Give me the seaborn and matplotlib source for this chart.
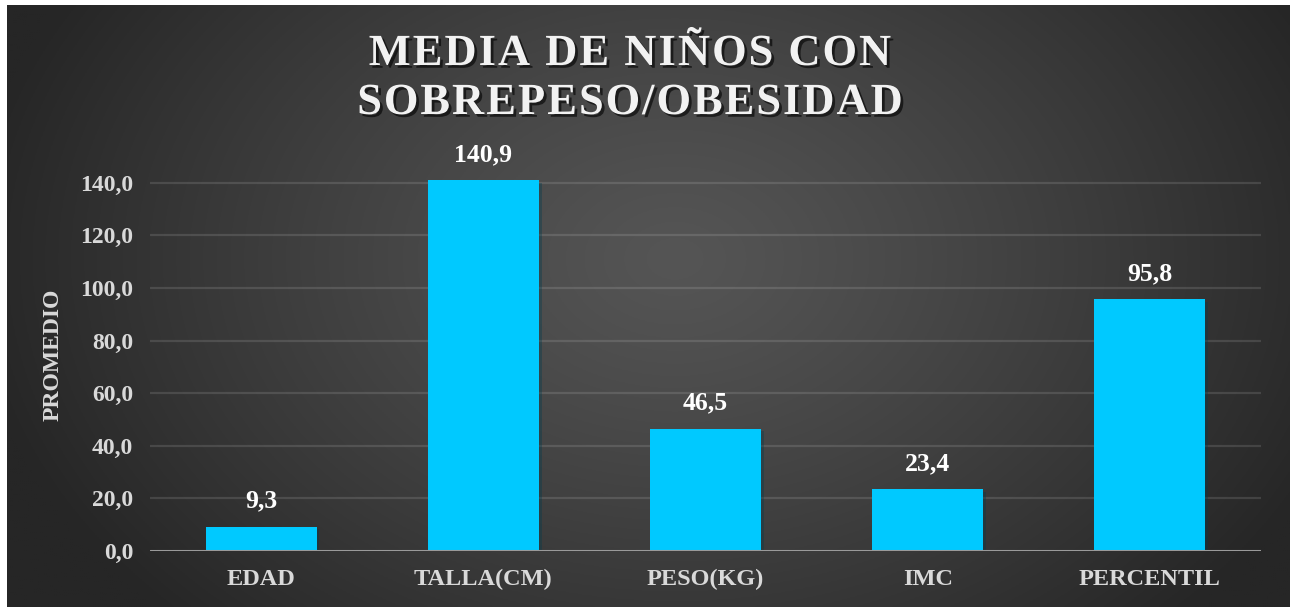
import numpy as np
import pandas as pd
import matplotlib
matplotlib.use("Agg")
import matplotlib.pyplot as plt
import matplotlib.patheffects as pe
import seaborn as sns

categorias = ["EDAD", "TALLA(CM)", "PESO(KG)", "IMC", "PERCENTIL"]
promedios = [9.3, 140.9, 46.5, 23.4, 95.8]
marcas_y = [0, 20, 40, 60, 80, 100, 120, 140]

titulo_lineas = ["MEDIA DE NIÑOS CON", "SOBREPESO/OBESIDAD"]
etiqueta_y = "PROMEDIO"

color_barra = "#00C9FF"
color_texto = "#D9D9D9"

sns.set_theme(style="dark")
plt.rcParams["font.family"] = ["Liberation Serif", "DejaVu Serif"]
plt.rcParams["font.weight"] = "bold"

W, H, DPI = 1292, 607, 100
fig = plt.figure(figsize=(W / DPI, H / DPI), dpi=DPI, facecolor="white")

# dark radial-gradient backdrop
bg = fig.add_axes([7 / W, 0, (1290 - 7) / W, (607 - 5) / H])
bg.set_axis_off()
ny, nx = 300, 640
yy, xx = np.mgrid[0:ny, 0:nx]
cx, cy = nx * 0.52, ny * 0.42
r = np.sqrt(((xx - cx) / (nx * 0.55)) ** 2 + ((yy - cy) / (ny * 0.85)) ** 2)
r = np.clip(r, 0, 1)
lo, hi = 0x26 / 255, 0x55 / 255
val = hi - (hi - lo) * r ** 1.2
img = np.dstack([val, val, val])
bg.imshow(img, aspect="auto", extent=[0, 1, 0, 1], origin="upper")
bg.set_xlim(0, 1)
bg.set_ylim(0, 1)

ax = fig.add_axes([150 / W, 1 - 551 / H, (1261 - 150) / W, (551 - 130) / H])
ax.patch.set_alpha(0)

df = pd.DataFrame({"categoria": categorias, "promedio": promedios})
sns.barplot(data=df, x="categoria", y="promedio", color=color_barra,
            width=0.5, saturation=1, ax=ax, zorder=3)
for bar in ax.patches:
    bar.set_edgecolor("none")
    bar.set_path_effects([pe.SimplePatchShadow(offset=(2, -2), alpha=0.35),
                          pe.Normal()])

ax.set_ylim(0, 160)
ax.set_xlim(-0.5, len(categorias) - 0.5)
ax.set_yticks(marcas_y)
ax.set_yticklabels([f"{v:.1f}".replace(".", ",") for v in marcas_y])
ax.grid(False)
for v in marcas_y[1:]:
    ax.axhline(v, color="white", alpha=0.12, lw=1.6, zorder=1)
ax.axhline(0, color="#9a9a9a", lw=2.2, zorder=4)

for s in ax.spines.values():
    s.set_visible(False)

ax.tick_params(axis="y", length=0, colors=color_texto, labelsize=17, pad=12)
ax.tick_params(axis="x", length=0, colors=color_texto, labelsize=17.5, pad=13)
for lbl in ax.get_xticklabels() + ax.get_yticklabels():
    lbl.set_fontweight("bold")

ax.set_xlabel("")
ax.set_ylabel("")
fig.text(53 / W, 1 - 355 / H, etiqueta_y, rotation=90, ha="center",
         va="center", color=color_texto, fontsize=17, fontweight="bold")

for i, v in enumerate(promedios):
    ax.annotate(f"{v:.1f}".replace(".", ","), (i, v), xytext=(0, 10),
                textcoords="offset points", ha="center", va="bottom",
                color="white", fontsize=18.5, fontweight="bold", zorder=5)

# title drawn with extra letter spacing, line by line
sombra = [pe.withSimplePatchShadow(offset=(2, -2), shadow_rgbFace="black",
                                   alpha=0.6)]
renderer = fig.canvas.get_renderer()
tracking = 2.0  # extra pixels between letters
for linea, yc in zip(titulo_lineas, [54, 103]):
    widths = []
    for ch in linea:
        t = fig.text(0, 0, ch if ch != " " else "\u00a0", fontsize=32,
                     fontweight="bold")
        widths.append(t.get_window_extent(renderer).width)
        t.remove()
    total = sum(widths) + tracking * (len(linea) - 1)
    x = 630 - total / 2
    for ch, w in zip(linea, widths):
        if ch != " ":
            fig.text(x / W, 1 - yc / H, ch, ha="left", va="center",
                     color="#F2F2F2", fontsize=32, fontweight="bold",
                     path_effects=sombra)
        x += w + tracking

fig.savefig("out.png", dpi=DPI, facecolor="white")
